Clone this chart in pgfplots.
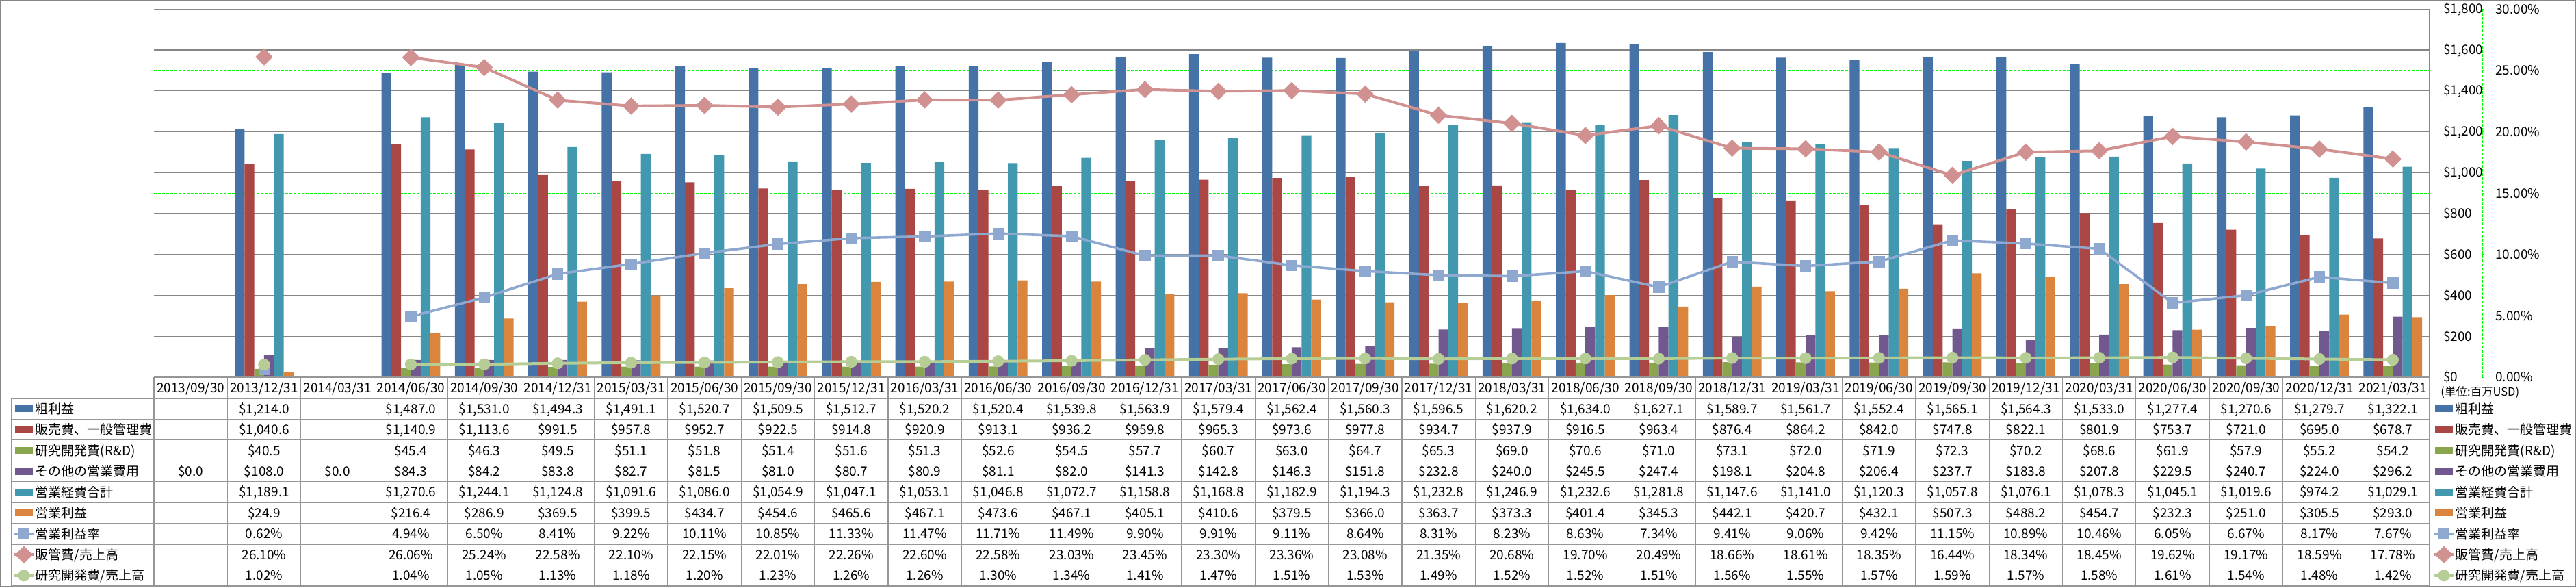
\documentclass[border=0pt]{standalone}
\usepackage{fontspec}
\setmainfont{Noto Sans CJK JP}
\usepackage{pgfplots}
\usepackage{pgfplotstable}
\pgfplotsset{compat=1.18}
\pgfkeys{/pgf/number format/assume math mode=true}

\definecolor{cA}{RGB}{69,114,167}
\definecolor{cB}{RGB}{170,70,67}
\definecolor{cC}{RGB}{137,165,78}
\definecolor{cD}{RGB}{113,88,143}
\definecolor{cE}{RGB}{65,152,175}
\definecolor{cF}{RGB}{219,132,61}
\definecolor{lA}{RGB}{143,168,208}
\definecolor{lB}{RGB}{209,145,145}
\definecolor{lC}{RGB}{183,205,150}
\definecolor{gridgray}{RGB}{134,134,134}
\definecolor{tblgray}{RGB}{150,150,150}
\definecolor{dgreen}{RGB}{0,255,0}

\newcommand{\fsz}{\fontsize{9.5pt}{11pt}\selectfont}
\def\nanstr{nan}

\pgfplotstableread{
idx gp sga rd other opex op opm sgar rdr
0 nan nan nan 0.0 nan nan nan nan nan
1 1214.0 1040.6 40.5 108.0 1189.1 24.9 0.62 26.10 1.02
2 nan nan nan 0.0 nan nan nan nan nan
3 1487.0 1140.9 45.4 84.3 1270.6 216.4 4.94 26.06 1.04
4 1531.0 1113.6 46.3 84.2 1244.1 286.9 6.50 25.24 1.05
5 1494.3 991.5 49.5 83.8 1124.8 369.5 8.41 22.58 1.13
6 1491.1 957.8 51.1 82.7 1091.6 399.5 9.22 22.10 1.18
7 1520.7 952.7 51.8 81.5 1086.0 434.7 10.11 22.15 1.20
8 1509.5 922.5 51.4 81.0 1054.9 454.6 10.85 22.01 1.23
9 1512.7 914.8 51.6 80.7 1047.1 465.6 11.33 22.26 1.26
10 1520.2 920.9 51.3 80.9 1053.1 467.1 11.47 22.60 1.26
11 1520.4 913.1 52.6 81.1 1046.8 473.6 11.71 22.58 1.30
12 1539.8 936.2 54.5 82.0 1072.7 467.1 11.49 23.03 1.34
13 1563.9 959.8 57.7 141.3 1158.8 405.1 9.90 23.45 1.41
14 1579.4 965.3 60.7 142.8 1168.8 410.6 9.91 23.30 1.47
15 1562.4 973.6 63.0 146.3 1182.9 379.5 9.11 23.36 1.51
16 1560.3 977.8 64.7 151.8 1194.3 366.0 8.64 23.08 1.53
17 1596.5 934.7 65.3 232.8 1232.8 363.7 8.31 21.35 1.49
18 1620.2 937.9 69.0 240.0 1246.9 373.3 8.23 20.68 1.52
19 1634.0 916.5 70.6 245.5 1232.6 401.4 8.63 19.70 1.52
20 1627.1 963.4 71.0 247.4 1281.8 345.3 7.34 20.49 1.51
21 1589.7 876.4 73.1 198.1 1147.6 442.1 9.41 18.66 1.56
22 1561.7 864.2 72.0 204.8 1141.0 420.7 9.06 18.61 1.55
23 1552.4 842.0 71.9 206.4 1120.3 432.1 9.42 18.35 1.57
24 1565.1 747.8 72.3 237.7 1057.8 507.3 11.15 16.44 1.59
25 1564.3 822.1 70.2 183.8 1076.1 488.2 10.89 18.34 1.57
26 1533.0 801.9 68.6 207.8 1078.3 454.7 10.46 18.45 1.58
27 1277.4 753.7 61.9 229.5 1045.1 232.3 6.05 19.62 1.61
28 1270.6 721.0 57.9 240.7 1019.6 251.0 6.67 19.17 1.54
29 1279.7 695.0 55.2 224.0 974.2 305.5 8.17 18.59 1.48
30 1322.1 678.7 54.2 296.2 1029.1 293.0 7.67 17.78 1.42
}\data

\pgfplotsset{
  barleg/.style={legend image code/.code={\fill[##1] (0pt,-2.5pt) rectangle (13pt,2.5pt);}},
  lineleg/.style={legend image code/.code={\draw[##1] (-1pt,0pt) -- (14pt,0pt); \draw[##1] plot coordinates {(6.5pt,0pt)};}},
  lsA/.style={color=lA, line width=1.8pt, mark=square*, mark size=3.9pt, mark options={solid, line width=0.4pt, fill=lA, draw=lA}},
  lsB/.style={color=lB, line width=2pt, mark=square*, mark size=4.3pt, mark options={solid, rotate=45, line width=0.4pt, fill=lB, draw=lB}},
  lsC/.style={color=lC, line width=2pt, mark=*, mark size=4.1pt, mark options={solid, line width=0.4pt, fill=lC, draw=lC}},
  tblleg/.style={legend cell align=left, legend style={draw=none, fill=none, inner sep=0pt, outer sep=0pt, anchor=north west, row sep=0pt, column sep=0pt, cells={anchor=west}, font=\fsz,
     nodes={inner sep=0pt, outer sep=0pt, text height=11.2pt, text depth=4.02pt}}},
  base/.style={at={(112.5pt,153.5pt)}, anchor=south west, width=1663pt, height=268.85pt, scale only axis, xmin=-0.5, xmax=30.5},
}

\newcommand{\legendentries}{%
\addlegendimage{barleg,fill=cA,draw=none}\addlegendentry{粗利益}
\addlegendimage{barleg,fill=cB,draw=none}\addlegendentry{販売費、一般管理費}
\addlegendimage{barleg,fill=cC,draw=none}\addlegendentry{研究開発費(R\&D)}
\addlegendimage{barleg,fill=cD,draw=none}\addlegendentry{その他の営業費用}
\addlegendimage{barleg,fill=cE,draw=none}\addlegendentry{営業経費合計}
\addlegendimage{barleg,fill=cF,draw=none}\addlegendentry{営業利益}
\addlegendimage{lineleg,lsA}\addlegendentry{営業利益率}
\addlegendimage{lineleg,lsB}\addlegendentry{販管費/売上高}
\addlegendimage{lineleg,lsC}\addlegendentry{研究開発費/売上高}
}

\tikzset{cellnode/.style={font=\fsz, inner sep=0pt, text height=6.9pt, text depth=0pt, anchor=center}}

\begin{document}
\begin{tikzpicture}
\useasboundingbox (0,0) rectangle (1882.5pt,429pt);

% bars
\begin{axis}[base,
  ymin=0, ymax=1800,
  axis x line=none, axis y line*=right,
  y axis line style={draw=gridgray, line width=0.6pt},
  ytick={0,200,...,1800},
  yticklabels={\$0,\$200,\$400,\$600,\$800,{\$1,000},{\$1,200},{\$1,400},{\$1,600},{\$1,800}},
  yticklabel style={anchor=west, inner sep=0pt, xshift=10pt, font=\fsz, text=black},
  major tick length=0pt, tick style={draw=none},
  ymajorgrids, major grid style={draw=gridgray, line width=0.6pt},
  extra y ticks={300,900,1500}, extra y tick labels={},
  extra y tick style={grid=major, major grid style={draw=dgreen, line width=0.5pt, dash pattern=on 2pt off 1pt}},
  ybar=0pt, bar width=7.15pt,
  unbounded coords=jump,
]
\addplot[fill=cA, draw=none] table[x=idx,y=gp]{\data};
\addplot[fill=cB, draw=none] table[x=idx,y=sga]{\data};
\addplot[fill=cC, draw=none] table[x=idx,y=rd]{\data};
\addplot[fill=cD, draw=none] table[x=idx,y=other]{\data};
\addplot[fill=cE, draw=none] table[x=idx,y=opex]{\data};
\addplot[fill=cF, draw=none] table[x=idx,y=op]{\data};
\end{axis}

% lines (percent axis) + right legend
\begin{axis}[base,
  ymin=0, ymax=30,
  axis x line=none, axis y line*=right,
  y axis line style={draw=none},
  ytick={0,5,...,30},
  yticklabels={0.00\%,5.00\%,10.00\%,15.00\%,20.00\%,25.00\%,30.00\%},
  yticklabel style={anchor=west, inner sep=0pt, xshift=48pt, font=\fsz, text=black},
  major tick length=0pt, tick style={draw=none},
  unbounded coords=jump,
  tblleg, legend style={at={(1.001203,-0.057653)}},
]
\addplot[lsA, forget plot] table[x=idx,y=opm]{\data};
\addplot[lsB, forget plot] table[x=idx,y=sgar]{\data};
\addplot[lsC, forget plot] table[x=idx,y=rdr]{\data};
\legendentries
\end{axis}

% table key column legend
\begin{axis}[base, ymin=0, ymax=1, hide axis,
  tblleg, legend style={at={(-0.062237,-0.057653)}},
]
\legendentries
\end{axis}

\begin{scope}[x=0.5pt,y=0.5pt]
  \draw[gridgray, line width=0.6pt] (1,1) rectangle (3764,857);
  % secondary axis line
  \draw[dgreen, line width=0.5pt, dash pattern=on 2pt off 1pt] (3628,307) -- (3628,844.7);
  \foreach \v in {0,...,6} \draw[dgreen, line width=0.5pt] (3628,307+\v*89.617) -- ++(3,0);
  \node[anchor=west, inner sep=0pt, font=\fontsize{8.25pt}{10pt}\selectfont] at (3567,285) {(単位:百万USD)};
  % table grid
  \draw[tblgray, line width=0.6pt] (225,307) -- (3551,307);
  \foreach \k in {0,...,9} \draw[tblgray, line width=0.6pt] (16.3,276-\k*30.44) -- (3551,276-\k*30.44);
  \foreach \i in {0,...,31} \draw[tblgray, line width=0.6pt] (225+\i*107.29,307) -- (225+\i*107.29,2.04);
  \draw[tblgray, line width=0.6pt] (16.3,276) -- (16.3,2.04);
  % header
  \foreach \d [count=\i from 0] in {2013/09/30,2013/12/31,2014/03/31,2014/06/30,2014/09/30,2014/12/31,2015/03/31,2015/06/30,2015/09/30,2015/12/31,2016/03/31,2016/06/30,2016/09/30,2016/12/31,2017/03/31,2017/06/30,2017/09/30,2017/12/31,2018/03/31,2018/06/30,2018/09/30,2018/12/31,2019/03/31,2019/06/30,2019/09/30,2019/12/31,2020/03/31,2020/06/30,2020/09/30,2020/12/31,2021/03/31}
    \node[cellnode] at (225+\i*107.29+53.645, 291.5) {\d};
  % values
  \foreach \col/\k/\pct in {gp/0/0, sga/1/0, rd/2/0, other/3/0, opex/4/0, op/5/0, opm/6/1, sgar/7/1, rdr/8/1}{
    \foreach \r in {0,...,30}{
      \edef\tmp{\noexpand\pgfplotstablegetelem{\r}{\col}\noexpand\of\noexpand\data}\tmp
      \edef\val{\pgfplotsretval}
      \ifx\val\nanstr\else
        \node[cellnode] at (225+\r*107.29+53.645, 276-\k*30.44-15.22) {\ifnum\pct=0 \$\pgfmathprintnumber[fixed,fixed zerofill,precision=1,1000 sep={,}]{\val}\else\pgfmathprintnumber[fixed,fixed zerofill,precision=2]{\val}\%\fi};
      \fi
    }
  }
\end{scope}
\end{tikzpicture}
\end{document}
